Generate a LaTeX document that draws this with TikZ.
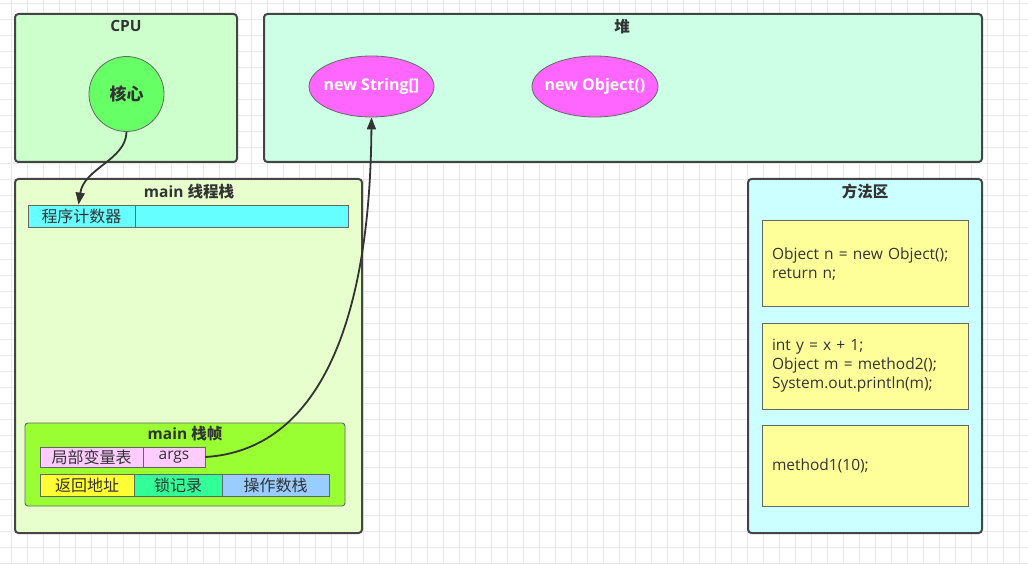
\documentclass[tikz,border=0pt]{standalone}
\usepackage{fontspec}
\setmainfont{Open Sans}
\newfontfamily\cjk{Noto Sans CJK SC}
\usetikzlibrary{arrows.meta,shapes.geometric}
\definecolor{gridc}{HTML}{E8E8E8}
\definecolor{boxline}{HTML}{444444}
\definecolor{cellline}{HTML}{666666}
\definecolor{textc}{HTML}{333333}
\definecolor{cpuFill}{HTML}{CCFFCC}
\definecolor{heapFill}{HTML}{CCFFE6}
\definecolor{stackFill}{HTML}{E6FFCC}
\definecolor{methodFill}{HTML}{CCFFFF}
\definecolor{coreFill}{HTML}{66FF66}
\definecolor{objFill}{HTML}{FF66FF}
\definecolor{pcFill}{HTML}{66FFFF}
\definecolor{frameFill}{HTML}{99FF33}
\definecolor{varFill}{HTML}{FFCCFF}
\definecolor{retFill}{HTML}{FFFF33}
\definecolor{lockFill}{HTML}{33FF99}
\definecolor{opFill}{HTML}{99CCFF}
\definecolor{codeFill}{HTML}{FFFF99}
\definecolor{arrowc}{HTML}{333333}
\tikzset{
  container/.style={draw=boxline, line width=2pt, rounded corners=3.5pt, inner sep=0pt},
  boxtitle/.style={font=\bfseries\fontsize{15.5}{18}\selectfont, text=textc, inner sep=0pt},
  cell/.style={draw=cellline, line width=0.8pt, inner sep=0pt, text=textc,
    font=\fontsize{15.5}{18}\selectfont},
  cjkcell/.style={cell, font=\cjk\fontsize{16}{18}\selectfont},
  heapobj/.style={ellipse, draw=cellline, line width=0.8pt, fill=objFill, text=white,
    inner sep=0pt, font=\bfseries\fontsize{16}{19}\selectfont},
  codebox/.style={draw=cellline, line width=0.8pt, fill=codeFill, inner xsep=10pt, inner ysep=0pt,
    text width=186pt, align=left, text=textc, font=\fontsize{15.5}{19}\selectfont},
  link/.style={draw=arrowc, line width=1.8pt, -{Triangle[length=12pt,width=9pt]}},
}
\begin{document}
\begin{tikzpicture}[x=1pt,y=-1pt]
\useasboundingbox (0,0) rectangle (1028,564);
\fill[white] (0,0) rectangle (1028,564);
\foreach \x in {11.5,27.5,...,1027.5} \draw[gridc, line width=0.8pt] (\x,0) -- (\x,564);
\foreach \y in {3.5,19.5,...,563.5} \draw[gridc, line width=0.8pt] (0,\y) -- (1028,\y);

% CPU
\node[container, fill=cpuFill, minimum width=222pt, minimum height=148pt] (cpu) at (126,88) {};
\node[boxtitle] (cputitle) at (126,26) {CPU};
\node[circle, draw=cellline, line width=0.8pt, fill=coreFill, minimum size=75pt, inner sep=0pt,
  text=textc, font=\cjk\bfseries\fontsize{17}{19}\selectfont] (core) at (126.5,94) {核心};

% Heap
\node[container, fill=heapFill, minimum width=718pt, minimum height=148pt] (heap) at (623,88) {};
\node[boxtitle, font=\cjk\bfseries\fontsize{15.5}{18}\selectfont] (heaptitle) at (622,27) {堆};
\node[heapobj, minimum width=125pt, minimum height=61pt] (str) at (371.5,86.5) {\makebox[0pt]{new String[]}};
\node[heapobj, minimum width=126pt, minimum height=61pt] (obj) at (595,86.5) {\makebox[0pt]{new Object()}};

% main thread stack
\node[container, fill=stackFill, minimum width=347pt, minimum height=354pt] (stack) at (188.5,356) {};
\node[boxtitle] (stacktitle) at (189,192) {main {\cjk 线程栈}};
\node[cjkcell, fill=pcFill, minimum width=107pt, minimum height=22pt] (pc1) at (81.5,216) {程序计数器};
\node[cell, fill=pcFill, minimum width=213pt, minimum height=22pt] (pc2) at (241.5,216) {};

% main frame
\node[draw=cellline, line width=0.9pt, rounded corners=3pt, fill=frameFill, minimum width=320pt,
  minimum height=83pt, inner sep=0pt] (frame) at (185,464.5) {};
\node[boxtitle] (frametitle) at (185,434) {main {\cjk 栈帧}};
\node[cjkcell, fill=varFill, minimum width=103pt, minimum height=20pt] (var) at (91.5,457) {局部变量表};
\node[cell, fill=varFill, minimum width=62pt, minimum height=20pt] (args) at (174,457) {args};
\node[cjkcell, fill=retFill, minimum width=94pt, minimum height=22pt] (ret) at (87,485) {返回地址};
\node[cjkcell, fill=lockFill, minimum width=88pt, minimum height=22pt] (lock) at (178,485) {锁记录};
\node[cjkcell, fill=opFill, minimum width=107pt, minimum height=22pt] (op) at (275.5,485) {操作数栈};

% method area
\node[container, fill=methodFill, minimum width=234pt, minimum height=354pt] (method) at (865,356) {};
\node[boxtitle, font=\cjk\bfseries\fontsize{15.5}{18}\selectfont] (methodtitle) at (865,192) {方法区};
\node[codebox, minimum height=86pt] (m2) at (865,263.7) {Object n = new Object();\\return n;};
\node[codebox, minimum height=86pt] (m1) at (865,366) {int y = x + 1;\\Object m = method2();\\System.out.println(m);};
\node[codebox, minimum height=81pt] (mm) at (865,466.3) {method1(10);};

% connectors
\draw[link] (core.south) .. controls (126,160) and (84,168) .. ([xshift=-3pt]pc1.north);
\draw[link] (args.east) .. controls (320,450) and (370,320) .. (str.south);
\end{tikzpicture}
\end{document}
